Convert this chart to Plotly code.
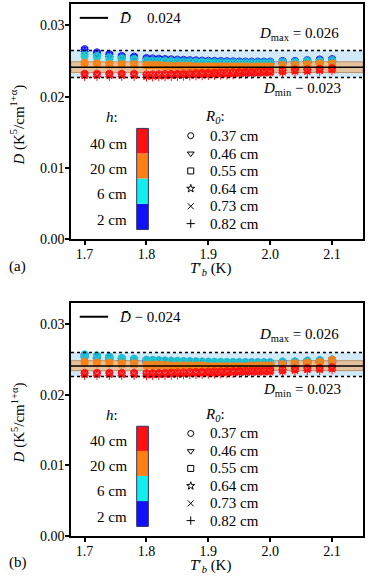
import plotly.graph_objects as go

# ---------------- data ----------------
T_b = [1.70, 1.72, 1.74, 1.76, 1.78,
       1.80, 1.81, 1.82, 1.83, 1.84, 1.85, 1.86, 1.87, 1.88, 1.89, 1.90,
       1.91, 1.92, 1.93, 1.94, 1.95, 1.96, 1.97, 1.98, 1.99, 2.00,
       2.02, 2.04, 2.06, 2.08, 2.10]

h_labels = ["2 cm", "6 cm", "20 cm", "40 cm"]
h_colors = ["#1414ff", "#1ccccc", "#ff8010", "#ff1010"]
h_bar_colors = ["#1010ff", "#12eeee", "#ff8010", "#ff1010"]
R0_labels = ["0.37 cm", "0.46 cm", "0.55 cm", "0.64 cm", "0.73 cm", "0.82 cm"]
R0_symbols = ["circle-open", "triangle-down-open", "square-open",
              "star-open", "x-thin-open", "cross-thin-open"]

# panel (a): D per h (centre of the R0 cluster)
a_h2 = [0.02655, 0.0261, 0.02585, 0.0256, 0.0255,
        0.0253, 0.02525, 0.0252, 0.02515, 0.02512, 0.02508, 0.02505, 0.0250, 0.02498, 0.02495, 0.02492,
        0.0249, 0.02488, 0.02486, 0.02484, 0.02482, 0.02481, 0.0248, 0.0248, 0.0248, 0.0248,
        0.0249, 0.0249, 0.0250, 0.0251, 0.02515]
a_h6 = [0.0258, 0.0256, 0.0254, 0.0253, 0.0252,
        0.0250, 0.02498, 0.02495, 0.02492, 0.0249, 0.02488, 0.02485, 0.02482, 0.0248, 0.02478, 0.02476,
        0.02474, 0.02472, 0.0247, 0.0247, 0.02468, 0.02468, 0.02468, 0.02468, 0.02468, 0.0247,
        0.0248, 0.0248, 0.0249, 0.0249, 0.0250]
a_h20 = [0.0247, 0.0246, 0.0245, 0.0245, 0.0245,
         0.0244, 0.0244, 0.0244, 0.0243, 0.0243, 0.0243, 0.0243, 0.0243, 0.0242, 0.0242, 0.0242,
         0.0242, 0.0242, 0.0242, 0.0242, 0.0242, 0.0242, 0.0242, 0.0242, 0.0242, 0.0242,
         0.0244, 0.0244, 0.0245, 0.0246, 0.0246]
a_h40 = [0.0230, 0.0230, 0.0230, 0.0230, 0.0230,
         0.0229, 0.02292, 0.02294, 0.02296, 0.02298, 0.0230, 0.02302, 0.02305, 0.02308, 0.0231, 0.02312,
         0.02315, 0.02318, 0.0232, 0.02322, 0.02325, 0.02328, 0.0233, 0.02333, 0.02336, 0.0234,
         0.0235, 0.0236, 0.0236, 0.0237, 0.0238]

# panel (b)
b_h2 = [0.02555, 0.0254, 0.02525, 0.02505, 0.02495,
        0.0248, 0.02478, 0.02474, 0.0247, 0.02468, 0.02465, 0.02462, 0.0246, 0.02458, 0.02456, 0.02454,
        0.02452, 0.0245, 0.0245, 0.02449, 0.02448, 0.02448, 0.02447, 0.02447, 0.02446, 0.02446,
        0.02455, 0.02458, 0.0247, 0.02476, 0.02485]
b_h6 = [0.0256, 0.02545, 0.0253, 0.0251, 0.0250,
        0.02485, 0.02482, 0.02478, 0.02475, 0.02472, 0.0247, 0.02467, 0.02465, 0.02462, 0.0246, 0.02458,
        0.02456, 0.02455, 0.02454, 0.02453, 0.02452, 0.02452, 0.02451, 0.02451, 0.0245, 0.0245,
        0.0246, 0.02462, 0.02474, 0.0248, 0.0249]
b_h20 = [0.0246, 0.0245, 0.0245, 0.0244, 0.0244,
         0.0242, 0.0242, 0.0242, 0.0242, 0.0241, 0.0241, 0.0241, 0.0241, 0.0241, 0.0241, 0.0240,
         0.0240, 0.0240, 0.0240, 0.0240, 0.0240, 0.0240, 0.0241, 0.0241, 0.0241, 0.0241,
         0.0243, 0.0244, 0.0245, 0.0246, 0.0249]
b_h40 = [0.0229, 0.0229, 0.0229, 0.0229, 0.0229,
         0.02285, 0.02287, 0.02289, 0.02291, 0.02293, 0.02295, 0.02297, 0.023, 0.02302, 0.02305, 0.02308,
         0.0231, 0.02312, 0.02315, 0.02318, 0.0232, 0.02322, 0.02324, 0.02326, 0.02328, 0.0233,
         0.0234, 0.0235, 0.0236, 0.0236, 0.0237]

# spread of the R0 markers around the cluster centre, per h
R0_offset_h2 = [0.0002, 0.0001, 0.0, -0.0001, -0.00015, -0.0002]
R0_offset_h6 = [0.0002, 0.0001, 0.0, -0.0001, -0.00015, -0.0002]
R0_offset_h20 = [0.00015, 0.0001, 0.0, -0.00005, -0.0001, -0.00015]
R0_offset_h40 = [0.0003, 0.0002, 0.0001, 0.0, -0.0001, -0.0002]

# reference levels per panel: Dmin, Dmax, mean, band low, band high
a_levels = dict(dmin=0.02268, dmax=0.02648, mean=0.02412, lo=0.02338, hi=0.02489)
b_levels = dict(dmin=0.02258, dmax=0.0260, mean=0.02408, lo=0.02342, hi=0.02483)
a_texts = dict(mean="0.024", dmax="= 0.026", dmin="\u2212 0.023")
b_texts = dict(mean="\u2212 0.024", dmax="= 0.026", dmin="= 0.023")

XR = [1.678, 2.15]
YR = [0.0, 0.033]

FONT = "Liberation Serif"

fig = go.Figure()


def dom2x(f):
    return XR[0] + f * (XR[1] - XR[0])


def dom2y(f):
    return YR[0] + f * (YR[1] - YR[0])


panels = [
    ("x", "y", [a_h2, a_h6, a_h20, a_h40], a_levels, a_texts, "(a)"),
    ("x2", "y2", [b_h2, b_h6, b_h20, b_h40], b_levels, b_texts, "(b)"),
]
offsets = [R0_offset_h2, R0_offset_h6, R0_offset_h20, R0_offset_h40]

shapes = []
annotations = []
TF = dict(size=15)

for xa, ya, series, lev, txt, plabel in panels:
    xd = xa + " domain"
    yd = ya + " domain"
    # data
    for hi, vals in enumerate(series):
        for ri, sym in enumerate(R0_symbols):
            fig.add_trace(go.Scatter(
                x=T_b, y=[v + offsets[hi][ri] for v in vals],
                mode="markers", xaxis=xa, yaxis=ya, showlegend=False,
                marker=dict(symbol=sym, size=6, color=h_colors[hi],
                            line=dict(width=1, color=h_colors[hi]))))
    # bands
    shapes.append(dict(type="rect", xref=xd, yref=ya, x0=0, x1=1,
                       y0=lev["dmin"], y1=lev["dmax"], fillcolor="#d2eaf8",
                       line=dict(width=0), layer="below"))
    shapes.append(dict(type="rect", xref=xd, yref=ya, x0=0, x1=1,
                       y0=lev["lo"], y1=lev["hi"], fillcolor="#e4c29e",
                       line=dict(width=1, color="#b99470"), layer="below"))
    for key in ("dmin", "dmax"):
        shapes.append(dict(type="line", xref=xd, yref=ya, x0=0, x1=1,
                           y0=lev[key], y1=lev[key],
                           line=dict(color="black", width=1.5, dash="dot"), layer="above"))
    shapes.append(dict(type="line", xref=xd, yref=ya, x0=0, x1=1,
                       y0=lev["mean"], y1=lev["mean"],
                       line=dict(color="black", width=1.5), layer="above"))
    # top-left legend line
    shapes.append(dict(type="line", xref=xd, yref=yd, x0=0.03, x1=0.127,
                       y0=0.941, y1=0.941, line=dict(color="black", width=2)))
    if plabel == "(a)":
        annotations.append(dict(xref=xd, yref=yd, x=0.158, y=0.941, text="<i>D\u0304</i>",
                                showarrow=False, xanchor="left", yanchor="middle", font=TF))
        annotations.append(dict(xref=xd, yref=yd, x=0.253, y=0.941, text=txt["mean"],
                                showarrow=False, xanchor="left", yanchor="middle", font=TF))
    else:
        annotations.append(dict(xref=xd, yref=yd, x=0.158, y=0.941,
                                text="<i>D\u0304</i> " + txt["mean"],
                                showarrow=False, xanchor="left", yanchor="middle", font=TF))
    ymax_pos = 0.872 if plabel == "(a)" else 0.862
    ymin_pos = 0.637 if plabel == "(a)" else 0.627
    annotations.append(dict(xref=xd, yref=yd, x=0.925, y=ymax_pos,
                            text="<i>D</i><sub>max</sub> " + txt["dmax"],
                            showarrow=False, xanchor="right", yanchor="middle", font=TF))
    annotations.append(dict(xref=xd, yref=yd, x=0.93, y=ymin_pos,
                            text="<i>D</i><sub>min</sub> " + txt["dmin"],
                            showarrow=False, xanchor="right", yanchor="middle", font=TF))
    # h legend (colour bar)
    annotations.append(dict(xref=xd, yref=yd, x=0.139, y=0.521, text="<i>h</i>:",
                            showarrow=False, xanchor="center", yanchor="middle", font=TF))
    bounds = [0.041, 0.150, 0.258, 0.365, 0.471]
    for k in range(4):
        shapes.append(dict(type="rect", xref=xd, yref=yd, x0=0.225, x1=0.265,
                           y0=bounds[k], y1=bounds[k + 1], fillcolor=h_bar_colors[k],
                           line=dict(width=0)))
        annotations.append(dict(xref=xd, yref=yd, x=0.197, y=(bounds[k] + bounds[k + 1]) / 2 - 0.012,
                                text=h_labels[k], showarrow=False, xanchor="right",
                                yanchor="middle", font=TF))
    shapes.append(dict(type="rect", xref=xd, yref=yd, x0=0.225, x1=0.265,
                       y0=bounds[0], y1=bounds[-1], line=dict(width=1, color="#333366")))
    # R0 legend
    annotations.append(dict(xref=xd, yref=yd, x=0.493, y=0.521,
                            text="<i>R<sub>0</sub></i>:", showarrow=False,
                            xanchor="center", yanchor="middle", font=TF))
    sy = [0.440, 0.364, 0.290, 0.215, 0.140, 0.066]
    for ri, sym in enumerate(R0_symbols):
        fig.add_trace(go.Scatter(
            x=[dom2x(0.41)], y=[dom2y(sy[ri])], mode="markers", xaxis=xa, yaxis=ya,
            showlegend=False, hoverinfo="skip",
            marker=dict(symbol=sym, size=6, color="black", line=dict(width=1, color="black"))))
        annotations.append(dict(xref=xd, yref=yd, x=0.468, y=sy[ri], text=R0_labels[ri],
                                showarrow=False, xanchor="left", yanchor="middle", font=TF))
    # axis titles
    annotations.append(dict(xref=xd, yref=yd, x=0.479, y=-0.128,
                            text="<i>T</i>\u2032<sub><i>b</i></sub> (K)", showarrow=False,
                            xanchor="center", yanchor="middle", font=TF))
    annotations.append(dict(xref="paper", yref=yd, x=-0.1815, y=0.483,
                            text="<i>D</i> (K<sup>5</sup>/cm<sup>1+\u03b1</sup>)",
                            textangle=-90, showarrow=False, xanchor="center",
                            yanchor="middle", font=TF))
    annotations.append(dict(xref="paper", yref=yd, x=-0.219, y=-0.115, text=plabel,
                            showarrow=False, xanchor="left", yanchor="middle", font=TF))

axis_common = dict(showgrid=False, zeroline=False, showline=True, linecolor="black",
                   linewidth=1.5, mirror=True, ticks="outside", ticklen=4,
                   tickwidth=1.5, tickcolor="black", tickfont=dict(size=14, family=FONT))

fig.update_layout(
    width=374, height=588,
    margin=dict(l=71, r=11, t=2, b=52),
    paper_bgcolor="white", plot_bgcolor="white",
    font=dict(family=FONT, size=14, color="black"),
    shapes=shapes, annotations=annotations,
    xaxis=dict(domain=[0, 1], anchor="y", range=XR, tickvals=[1.7, 1.8, 1.9, 2.0, 2.1],
               ticktext=["1.7", "1.8", "1.9", "2.0", "2.1"], ticklabelstandoff=-3, **axis_common),
    yaxis=dict(domain=[0.558, 1], anchor="x", range=YR, tickvals=[0, 0.01, 0.02, 0.03],
               ticktext=["0.00", "0.01", "0.02", "0.03"], ticklabelstandoff=-2, **axis_common),
    xaxis2=dict(domain=[0, 1], anchor="y2", range=XR, tickvals=[1.7, 1.8, 1.9, 2.0, 2.1],
                ticktext=["1.7", "1.8", "1.9", "2.0", "2.1"], ticklabelstandoff=-3, **axis_common),
    yaxis2=dict(domain=[0, 0.438], anchor="x2", range=YR, tickvals=[0, 0.01, 0.02, 0.03],
                ticktext=["0.00", "0.01", "0.02", "0.03"], ticklabelstandoff=-2, **axis_common),
)

fig.write_html("out.html", config={"displayModeBar": False},
               post_script="document.body.style.margin='0px';")
